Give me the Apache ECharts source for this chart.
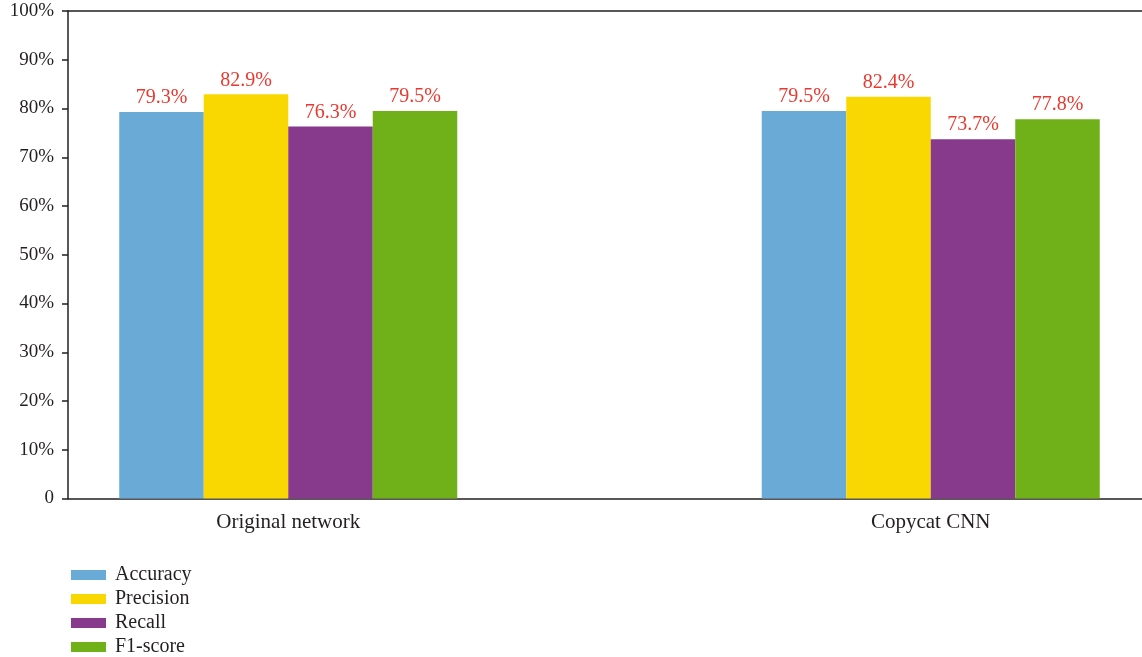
<!DOCTYPE html>
<html>
<head>
<meta charset="utf-8">
<script src="https://cdn.jsdelivr.net/npm/echarts@6/dist/echarts.min.js"></script>
<style>
html,body{margin:0;padding:0;background:#fff;}
#chart{width:1142px;height:657px;}
</style>
</head>
<body>
<div id="chart"></div>
<script>
const categories = ['Original network', 'Copycat CNN'];
const seriesNames = ['Accuracy', 'Precision', 'Recall', 'F1-score'];
const accuracy = [79.3, 79.5];
const precision = [82.9, 82.4];
const recall = [76.3, 73.7];
const f1score = [79.5, 77.8];
const yTicks = [0, 10, 20, 30, 40, 50, 60, 70, 80, 90, 100];
const colors = ['#6aaad6', '#f8d800', '#873a8b', '#70b018'];
const values = [accuracy, precision, recall, f1score];

const FONT = '"Liberation Serif", "Times New Roman", serif';
const TXT = '#231f20';

const chart = echarts.init(document.getElementById('chart'), null, {renderer: 'canvas'});
const option = {
  animation: false,
  backgroundColor: '#fff',
  textStyle: {fontFamily: FONT},
  grid: [
    {left: 68, right: 0, top: 11, bottom: 158.5, outerBoundsMode: 'none', containLabel: false},
    {left: -33, right: -110, top: 11, bottom: 158.5, outerBoundsMode: 'none', containLabel: false}
  ],
  xAxis: [
    {gridIndex: 0, type: 'value', min: 0, max: 1, position: 'bottom',
     axisLine: {show: true, lineStyle: {color: TXT, width: 1.5}},
     axisTick: {show: false}, axisLabel: {show: false}, splitLine: {show: false}},
    {gridIndex: 0, type: 'value', min: 0, max: 1, position: 'top',
     axisLine: {show: true, lineStyle: {color: TXT, width: 1.5}},
     axisTick: {show: false}, axisLabel: {show: false}, splitLine: {show: false}},
    {gridIndex: 1, type: 'category', data: categories, position: 'bottom',
     axisLine: {show: false}, axisTick: {show: false}, splitLine: {show: false},
     axisLabel: {show: true, margin: 13, fontSize: 21, color: TXT, fontFamily: FONT, interval: 0}}
  ],
  yAxis: [
    {gridIndex: 0, type: 'value', min: 0, max: 100, interval: 10,
     axisLine: {show: true, lineStyle: {color: TXT, width: 1.5}},
     axisTick: {show: true, length: 6, lineStyle: {color: TXT, width: 1.5}},
     splitLine: {show: false},
     axisLabel: {margin: 14, fontSize: 19, color: TXT, fontFamily: FONT,
       customValues: yTicks,
       formatter: v => v === 0 ? '0' : v + '%'}},
    {gridIndex: 1, type: 'value', min: 0, max: 100, show: false, splitLine: {show: false}}
  ],
  legend: {
    orient: 'vertical', left: 71, top: 565, padding: 0, height: 92,
    data: seriesNames,
    icon: 'rect', itemWidth: 35, itemHeight: 10, itemGap: 4,
    textStyle: {fontSize: 20, lineHeight: 20, color: TXT, fontFamily: FONT, padding: [0, 0, 0, 4]}
  },
  series: seriesNames.map((name, i) => ({
    name: name,
    type: 'bar',
    xAxisIndex: 2,
    yAxisIndex: 1,
    data: values[i],
    barWidth: 84.5,
    barGap: '0%',
    itemStyle: {color: colors[i]},
    label: {show: true, position: 'top', distance: 4, formatter: '{c}%',
      fontSize: 20, color: '#e8392f', fontFamily: FONT}
  }))
};
chart.setOption(option);
</script>
</body>
</html>
